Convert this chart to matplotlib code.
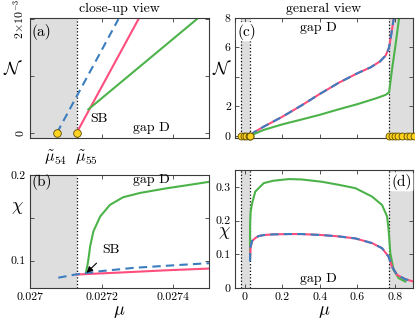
import matplotlib
matplotlib.use("Agg")
import matplotlib.pyplot as plt

plt.rcParams['font.family'] = 'serif'
plt.rcParams['font.serif'] = ['cmr10']
plt.rcParams['mathtext.fontset'] = 'cm'
plt.rcParams['axes.formatter.use_mathtext'] = True

# colours (matlab-ish)
BLUE = '#3b7dbf'
PINK = '#ff4d7d'
GREEN = '#4cb34a'
YELLOW = '#ffd31f'
GREY = '#dedede'
AXC = '#3a3a3a'

# band edges
mu54 = 0.027075
mu55 = 0.02713
gap_left = -0.019
gap_right = 0.770
edge_left = [-0.019, -0.006, 0.008, 0.0208, 0.02708, 0.02713]
edge_right = [0.770, 0.784, 0.798, 0.816, 0.837, 0.864, 0.881, 0.899]

# (a) close-up, norm N
mu_a_blue = [0.027075, 0.027247]
N_a_blue = [0.0, 2.0e-3]
mu_a_pink = [0.02713, 0.027303]
N_a_pink = [0.0, 2.0e-3]
mu_a_green = [0.027163, 0.027466]
N_a_green = [0.415e-3, 2.0e-3]

# (b) close-up, chi
mu_b_blue = [0.027079, 0.027126, 0.027196, 0.027289, 0.027382, 0.0275]
chi_b_blue = [0.080, 0.0837, 0.0876, 0.0915, 0.094, 0.097]
mu_b_pink = [0.02713, 0.027196, 0.027289, 0.027382, 0.0275]
chi_b_pink = [0.0837, 0.085, 0.0868, 0.0887, 0.0907]
mu_b_green = [0.027156, 0.02716, 0.027163, 0.027168, 0.027177, 0.027196, 0.027223,
              0.02726, 0.027307, 0.027382, 0.027438, 0.0275]
chi_b_green = [0.0857, 0.0934, 0.101, 0.1166, 0.134, 0.1515, 0.165,
               0.174, 0.179, 0.1845, 0.188, 0.192]

# (c) general view, norm N
mu_c_pb = [0.02713, 0.05, 0.1, 0.2, 0.3, 0.4, 0.5, 0.6, 0.67, 0.72, 0.75, 0.766,
           0.772, 0.779, 0.79, 0.8]
N_c_pb = [0.0, 0.25, 0.62, 1.3, 2.05, 2.85, 3.6, 4.25, 4.65, 5.05, 5.45, 5.9,
          6.25, 6.8, 7.7, 8.5]
mu_c_green = [0.02716, 0.1, 0.2, 0.3, 0.4, 0.5, 0.6, 0.7, 0.75, 0.768, 0.772,
              0.784, 0.802, 0.825]
N_c_green = [0.0004, 0.4, 0.78, 1.1, 1.43, 1.8, 2.15, 2.55, 2.78, 2.95, 3.3,
             4.5, 6.1, 8.3]

# (d) general view, chi
mu_d_blue = [0.02708, 0.0273, 0.0275, 0.03, 0.038, 0.055, 0.073, 0.1, 0.15, 0.233,
             0.3, 0.411, 0.5, 0.589, 0.678, 0.731, 0.766, 0.784, 0.811, 0.855, 0.9]
chi_d_blue = [0.079, 0.09, 0.0965, 0.122, 0.140, 0.149, 0.154, 0.157, 0.159, 0.160,
              0.160, 0.157, 0.153, 0.147, 0.133, 0.118, 0.093, 0.063, 0.039, 0.026, 0.019]
mu_d_pink = [0.02713, 0.0273, 0.0275, 0.03, 0.038, 0.055, 0.073, 0.1, 0.15, 0.233,
             0.3, 0.411, 0.5, 0.589, 0.678, 0.731, 0.766, 0.784, 0.811, 0.855, 0.9]
chi_d_pink = [0.084, 0.088, 0.091, 0.12, 0.139, 0.148, 0.154, 0.157, 0.159, 0.160,
              0.160, 0.157, 0.153, 0.147, 0.133, 0.118, 0.093, 0.063, 0.039, 0.026, 0.019]
mu_d_green = [0.02716, 0.02718, 0.0272, 0.0273, 0.0275, 0.03, 0.038, 0.055, 0.1, 0.15,
              0.233, 0.3, 0.411, 0.5, 0.589, 0.678, 0.731, 0.758, 0.766, 0.775,
              0.793, 0.82, 0.855]
chi_d_green = [0.0857, 0.12, 0.15, 0.175, 0.19, 0.225, 0.251, 0.286, 0.311, 0.318,
               0.323, 0.322, 0.315, 0.306, 0.296, 0.271, 0.246, 0.212, 0.172, 0.103,
               0.053, 0.029, 0.019]

LW = 1.5
DASH = (4, 2.5)

fig = plt.figure(figsize=(4.15, 3.3), dpi=100)
axA = fig.add_axes([0.0723, 0.5818, 0.4313, 0.3636])
axB = fig.add_axes([0.0723, 0.1273, 0.4313, 0.3424])
axC = fig.add_axes([0.5663, 0.5818, 0.4289, 0.3636])
axD = fig.add_axes([0.5663, 0.1273, 0.4289, 0.3576])


def style(ax):
    for s in ax.spines.values():
        s.set_color(AXC)
        s.set_linewidth(0.8)
    ax.tick_params(direction='in', top=True, right=True, length=3, width=0.6,
                   color=AXC, labelsize=8.5, pad=3)


# ---- (a)
ax = axA
ax.axvspan(0.027, mu55, color=GREY, lw=0)
ax.axvline(mu55, color='k', ls=':', lw=0.9)
ax.plot(mu_a_pink, N_a_pink, color=PINK, lw=LW)
ax.plot(mu_a_green, N_a_green, color=GREEN, lw=LW)
ax.plot(mu_a_blue, N_a_blue, color=BLUE, lw=LW, dashes=DASH)
ax.plot([mu54, mu55], [0, 0], 'o', ms=5.5, mfc=YELLOW, mec='#5a4a00', mew=0.6,
        clip_on=False, zorder=5)
ax.set_xlim(0.027, 0.0275)
ax.set_ylim(-0.088e-3, 2.02e-3)
ax.set_xticks([0.0272, 0.0274])
ax.set_xticklabels([])
ax.set_yticks([0, 1e-3, 2e-3])
ax.set_yticklabels(['0', '', r'$2\!\times\!10^{-3}$'], rotation=90, va='center')
style(ax)
ax.text(0.145, -0.165, r'$\tilde{\mu}_{54}$', transform=ax.transAxes,
        ha='center', va='center', fontsize=11.5)
ax.text(0.313, -0.165, r'$\tilde{\mu}_{55}$', transform=ax.transAxes,
        ha='center', va='center', fontsize=11.5)
ax.text(0.027193, 0.245e-3, 'SB', ha='center', va='center', fontsize=10)
ax.text(0.02734, 0.09e-3, 'gap D', ha='center', va='center', fontsize=10)
ax.text(0.061, 0.883, '(a)', transform=ax.transAxes, ha='center', va='center', fontsize=11)
ax.set_ylabel(r'$\mathcal{N}$', rotation=0, fontsize=13)
ax.yaxis.set_label_coords(-0.095, 0.508)
ax.set_title('close-up view', fontsize=10, pad=4)

# ---- (b)
ax = axB
ax.axvspan(0.027, mu55, color=GREY, lw=0)
ax.axvline(mu55, color='k', ls=':', lw=0.9)
ax.plot(mu_b_pink, chi_b_pink, color=PINK, lw=LW)
ax.plot(mu_b_green, chi_b_green, color=GREEN, lw=LW)
ax.plot(mu_b_blue, chi_b_blue, color=BLUE, lw=LW, dashes=DASH)
ax.set_xlim(0.027, 0.0275)
ax.set_ylim(0.068, 0.2)
ax.set_xticks([0.027, 0.0272, 0.0274])
ax.set_xticklabels(['0.027', '0.0272', '0.0274'])
ax.set_yticks([0.1, 0.15, 0.2])
ax.set_yticklabels(['0.1', '', '0.2'])
style(ax)
ax.annotate('SB', xy=(0.027158, 0.0857), xytext=(0.027225, 0.113),
            ha='center', va='center', fontsize=10,
            arrowprops=dict(arrowstyle='-|>', color='k', lw=0.8,
                            mutation_scale=9, shrinkA=5, shrinkB=0))
ax.text(0.68, 0.96, 'gap D', transform=ax.transAxes, ha='center', va='center', fontsize=10)
ax.text(0.067, 0.938, '(b)', transform=ax.transAxes, ha='center', va='center', fontsize=11)
ax.set_ylabel(r'$\chi$', rotation=0, fontsize=13)
ax.yaxis.set_label_coords(-0.073, 0.637)
ax.set_xlabel(r'$\mu$', fontsize=13, labelpad=2)

# ---- (c)
ax = axC
ax.axvspan(gap_left, mu55, color=GREY, lw=0)
ax.axvspan(gap_right, 0.9, color=GREY, lw=0)
for v in (gap_left, mu55, gap_right):
    ax.axvline(v, color='k', ls=':', lw=0.9)
ax.plot(mu_c_pb, N_c_pb, color=PINK, lw=LW)
ax.plot(mu_c_pb, N_c_pb, color=BLUE, lw=LW, dashes=DASH)
ax.plot(mu_c_green, N_c_green, color=GREEN, lw=LW)
ax.plot(edge_left + edge_right, [0] * (len(edge_left) + len(edge_right)), 'o', ms=5,
        mfc=YELLOW, mec='#5a4a00', mew=0.6, clip_on=False, zorder=5)
ax.set_xlim(-0.053, 0.896)
ax.set_ylim(-0.15, 8)
ax.set_xticks([0, 0.2, 0.4, 0.6, 0.8])
ax.set_xticklabels([])
ax.set_yticks([0, 2, 4, 6, 8])
ax.set_yticklabels(['0', '2', '', '6', '8'])
style(ax)
ax.text(0.468, 0.917, 'gap D', transform=ax.transAxes, ha='center', va='center', fontsize=10)
ax.text(0.066, 0.886, '(c)', transform=ax.transAxes, ha='center', va='center', fontsize=11,
        bbox=dict(boxstyle='round,pad=0.1', fc='white', ec='none'), zorder=6)
ax.set_ylabel(r'$\mathcal{N}$', rotation=0, fontsize=13)
ax.yaxis.set_label_coords(-0.073, 0.508)
ax.set_title('general view', fontsize=10, pad=4)

# ---- (d)
ax = axD
ax.axvspan(gap_left, mu55, color=GREY, lw=0)
ax.axvspan(gap_right, 0.9, color=GREY, lw=0)
for v in (gap_left, mu55, gap_right):
    ax.axvline(v, color='k', ls=':', lw=0.9)
ax.plot(mu_d_green, chi_d_green, color=GREEN, lw=LW)
ax.plot(mu_d_pink, chi_d_pink, color=PINK, lw=LW)
ax.plot(mu_d_blue, chi_d_blue, color=BLUE, lw=LW, dashes=DASH)
ax.set_xlim(-0.053, 0.896)
ax.set_ylim(0, 0.35)
ax.set_xticks([0, 0.2, 0.4, 0.6, 0.8])
ax.set_xticklabels(['0', '0.2', '0.4', '0.6', '0.8'])
ax.set_yticks([0, 0.1, 0.2, 0.3])
ax.set_yticklabels(['0', '0.1', '0.2', '0.3'])
style(ax)
ax.text(0.468, 0.074, 'gap D', transform=ax.transAxes, ha='center', va='center', fontsize=10)
ax.text(0.936, 0.9, '(d)', transform=ax.transAxes, ha='center', va='center', fontsize=11,
        bbox=dict(boxstyle='round,pad=0.1', fc='white', ec='none'), zorder=6)
ax.set_ylabel(r'$\chi$', rotation=0, fontsize=13)
ax.yaxis.set_label_coords(-0.058, 0.40)
ax.set_xlabel(r'$\mu$', fontsize=13, labelpad=2)

fig.savefig('out.png', dpi=100)
